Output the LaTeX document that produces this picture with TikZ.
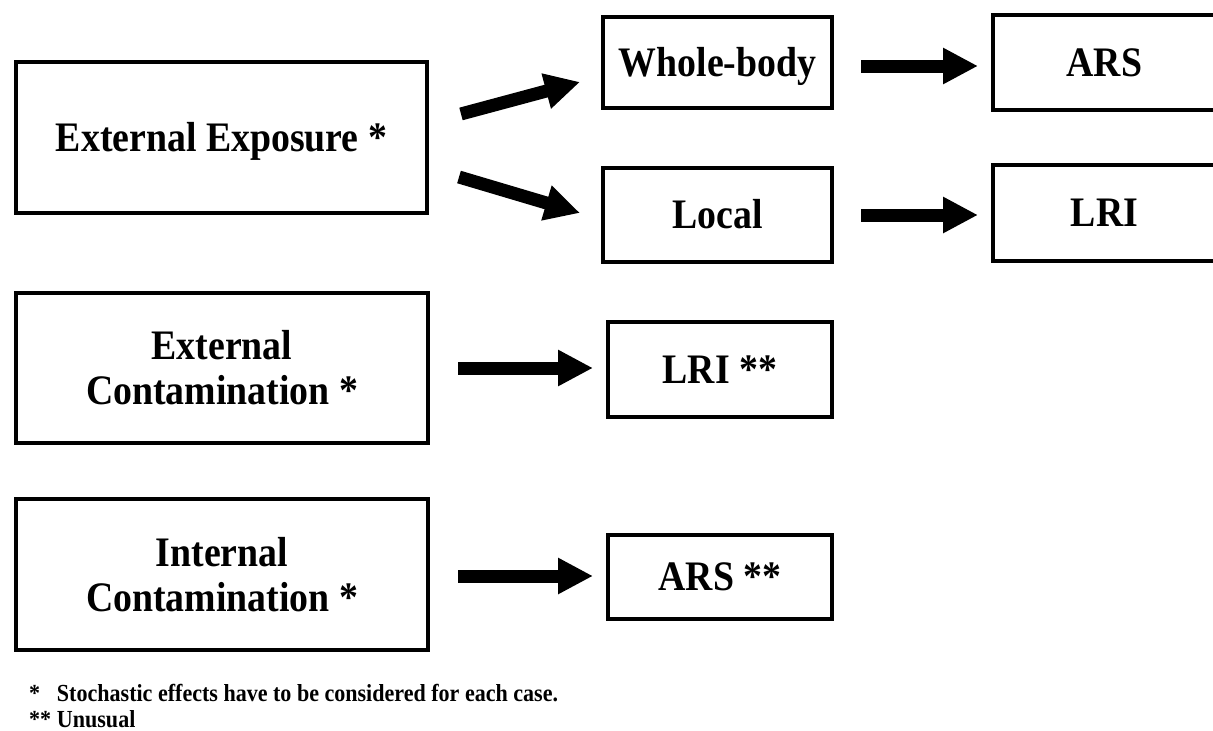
\documentclass[tikz,border=0pt]{standalone}
\usepackage{fontspec}
\setmainfont[FakeStretch=0.9]{Liberation Serif}
\usetikzlibrary{arrows.meta,calc}
\begin{document}
\begin{tikzpicture}[x=1pt,y=-1pt,
  box/.style={draw=black, line width=4.5pt, rectangle, inner sep=0pt, outer sep=0pt, align=center,
    font=\fontsize{42}{45}\selectfont\bfseries},
  one/.style={text height=27.8pt, text depth=0pt},
  arr/.style={line width=13pt, -{Triangle[length=35pt,width=34pt]}},
  note/.style={anchor=base west, inner sep=0pt, outer sep=0pt, font=\fontsize{24.5}{27}\selectfont\bfseries}]
\useasboundingbox[fill=white] (0,0) rectangle (1213,731);
% left column
\node[box, one, minimum width=411pt, minimum height=151pt] (ee) at (221.5,137.5) {External Exposure *};
\node[box, minimum width=412pt, minimum height=150pt] (ec) at (222,368) {External\\Contamination *};
\node[box, minimum width=412pt, minimum height=151pt] (ic) at (222,574.5) {Internal\\Contamination *};
% middle column
\node[box, one, minimum width=229pt, minimum height=91pt] (wb) at (717.5,62.5) {Whole-body};
\node[box, one, minimum width=229pt, minimum height=94pt] (lo) at (717.5,215) {Local};
\node[box, one, minimum width=224pt, minimum height=95pt] (lri2) at (720,369.5) {LRI **};
\node[box, one, minimum width=224pt, minimum height=84pt] (ars2) at (720,577) {ARS **};
% right column
\node[box, one, minimum width=223pt, minimum height=95pt] (ars) at (1104.5,62.5) {ARS};
\node[box, one, minimum width=223pt, minimum height=96pt] (lri) at (1104.5,213) {LRI};
% arrows
\draw[arr, shorten <=35.2pt, shorten >=23.8pt] ($(ee.east)+(0,-14.4)$) -- ($(wb.west)+(0,13.3)$);
\draw[arr, shorten <=33.4pt, shorten >=24pt] ($(ee.east)+(0,30)$) -- ($(lo.west)+(0,4.8)$);
\draw[arr, shorten <=29pt, shorten >=15pt] ($(wb.east)+(0,3.5)$) -- ($(ars.west)+(0,3.5)$);
\draw[arr, shorten <=29pt, shorten >=15pt] (lo.east) -- (lo.east -| lri.west);
\draw[arr, shorten <=30pt, shorten >=15pt] (ec.east) -- (ec.east -| lri2.west);
\draw[arr, shorten <=30pt, shorten >=15pt] ($(ic.east)+(0,1.5)$) -- ($(ic.east -| ars2.west)+(0,1.5)$);
% footnotes
\node[note] (fn1) at (29,701) {\makebox[28pt][l]{*}Stochastic effects have to be considered for each case.};
\node[note] (fn2) at (29,727) {\makebox[28pt][l]{**}Unusual};
\end{tikzpicture}
\end{document}
